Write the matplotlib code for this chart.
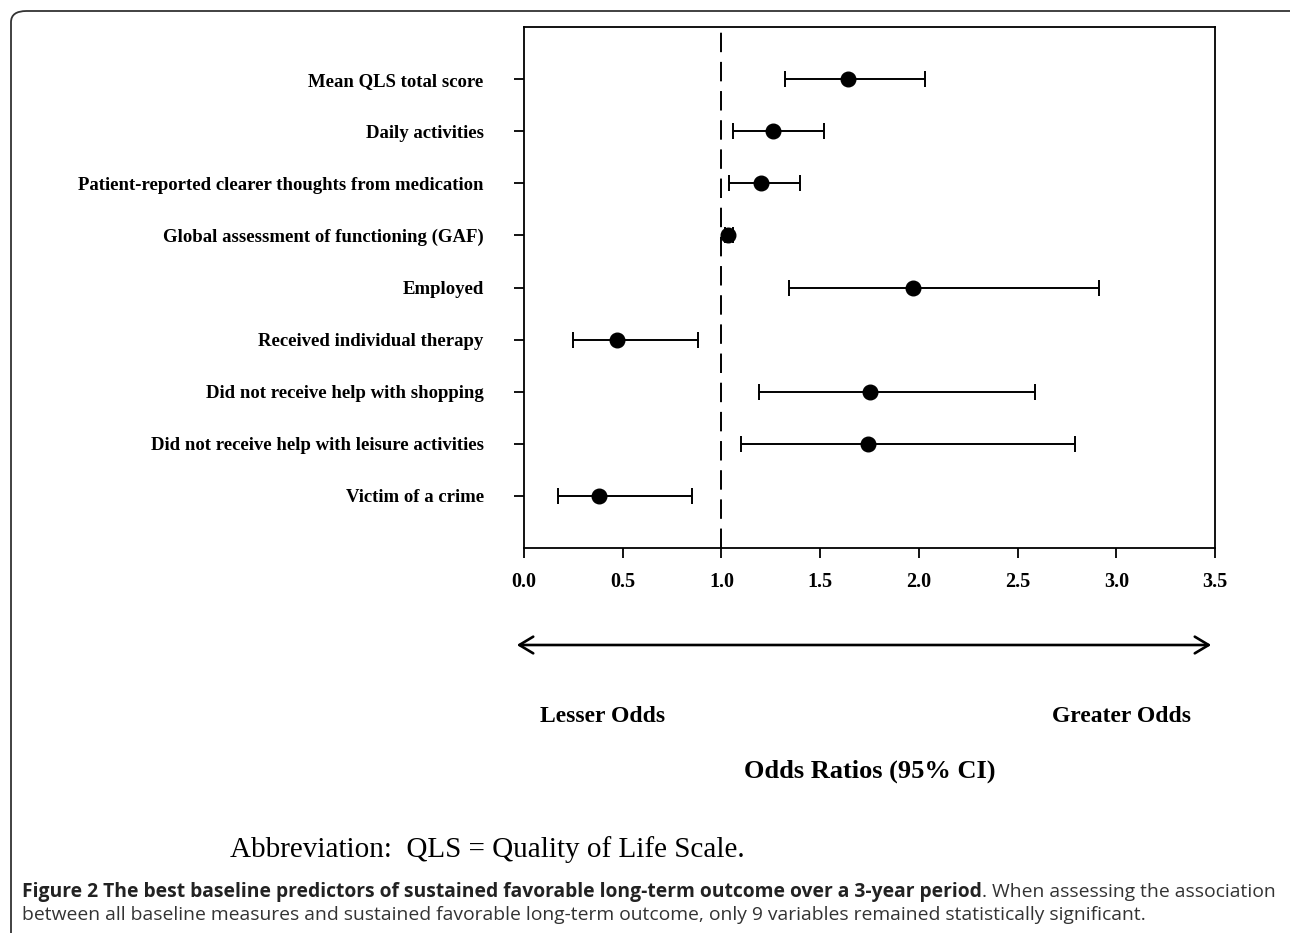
import matplotlib
matplotlib.use("Agg")
import matplotlib.pyplot as plt
from matplotlib.patches import FancyBboxPatch, FancyArrowPatch

labels = ["Mean QLS total score", "Daily activities",
          "Patient-reported clearer thoughts from medication",
          "Global assessment of functioning (GAF)", "Employed",
          "Received individual therapy", "Did not receive help with shopping",
          "Did not receive help with leisure activities", "Victim of a crime"]
odds = [1.64, 1.26, 1.20, 1.035, 1.97, 0.47, 1.75, 1.74, 0.38]
ci_low = [1.32, 1.06, 1.04, 1.02, 1.34, 0.25, 1.19, 1.10, 0.17]
ci_high = [2.03, 1.52, 1.40, 1.06, 2.91, 0.88, 2.59, 2.79, 0.85]
xticks = [0.0, 0.5, 1.0, 1.5, 2.0, 2.5, 3.0, 3.5]

W, H = 1290, 933
fig = plt.figure(figsize=(W / 100, H / 100), dpi=100)

# rounded frame around the whole figure
frame = FancyBboxPatch((11 / W, -20 / H), (W + 30 - 11) / W, (H - 11 + 20) / H,
                       boxstyle="round,pad=0,rounding_size=0.012",
                       transform=fig.transFigure, fill=False, ec="#333333", lw=1.3)
fig.patches.append(frame)

ax = fig.add_axes([524 / W, 1 - 548 / H, (1215 - 524) / W, (548 - 27) / H])
y = list(range(len(labels), 0, -1))
lo = [o - l for o, l in zip(odds, ci_low)]
hi = [h - o for o, h in zip(odds, ci_high)]
ax.errorbar(odds, y, xerr=[lo, hi], fmt="o", color="black", ms=10.5,
            elinewidth=1.4, capsize=6, capthick=1.4)
ax.axvline(1.0, color="black", lw=1.4, dashes=(10, 5))
ax.set_xlim(0, 3.5)
ax.set_ylim(0, 10)
ax.set_yticks(y)
ax.set_yticklabels(labels)
ax.set_xticks(xticks)
ax.set_xticklabels([f"{t:.1f}" for t in xticks])
for s in ax.spines.values():
    s.set_linewidth(1.3)
ax.tick_params(axis="y", length=7, width=1.3, pad=22)
ax.tick_params(axis="x", length=7, width=1.3, pad=10)
for t in ax.get_yticklabels():
    t.set_fontfamily("Liberation Serif")
    t.set_fontweight("bold")
    t.set_fontsize(13.5)
for t in ax.get_xticklabels():
    t.set_fontfamily("Liberation Serif")
    t.set_fontweight("bold")
    t.set_fontsize(14.5)

arrow = FancyArrowPatch((514 / W, 1 - 645 / H), (1214 / W, 1 - 645 / H),
                        transform=fig.transFigure, arrowstyle="<->,head_length=10,head_width=6",
                        color="black", lw=1.9)
fig.patches.append(arrow)

serif = "Liberation Serif"
fig.text(603 / W, 1 - 717 / H, "Lesser Odds", ha="center", va="center",
         family=serif, weight="bold", fontsize=17)
fig.text(1121 / W, 1 - 717 / H, "Greater Odds", ha="center", va="center",
         family=serif, weight="bold", fontsize=17)
fig.text(870 / W, 1 - 771 / H, "Odds Ratios (95% CI)", ha="center", va="center",
         family=serif, weight="bold", fontsize=19)
fig.text(230 / W, 1 - 850 / H, "Abbreviation:  QLS = Quality of Life Scale.",
         ha="left", va="center", family=serif, fontsize=21)

# caption
cap_size = 13.9
bold_part = fig.text(22 / W, 1 - 892 / H,
                     "Figure 2 The best baseline predictors of sustained favorable long-term outcome over a 3-year period",
                     ha="left", va="center", family="Open Sans", weight="bold",
                     fontsize=cap_size, color="#222222")
fig.canvas.draw()
bb = bold_part.get_window_extent()
fig.text(bb.x1 / W, 1 - 892 / H, ". When assessing the association",
         ha="left", va="center", family="Open Sans", fontsize=cap_size, color="#333333")
fig.text(22 / W, 1 - 915 / H,
         "between all baseline measures and sustained favorable long-term outcome, only 9 variables remained statistically significant.",
         ha="left", va="center", family="Open Sans", fontsize=cap_size, color="#333333")

fig.savefig("out.png", dpi=100)
